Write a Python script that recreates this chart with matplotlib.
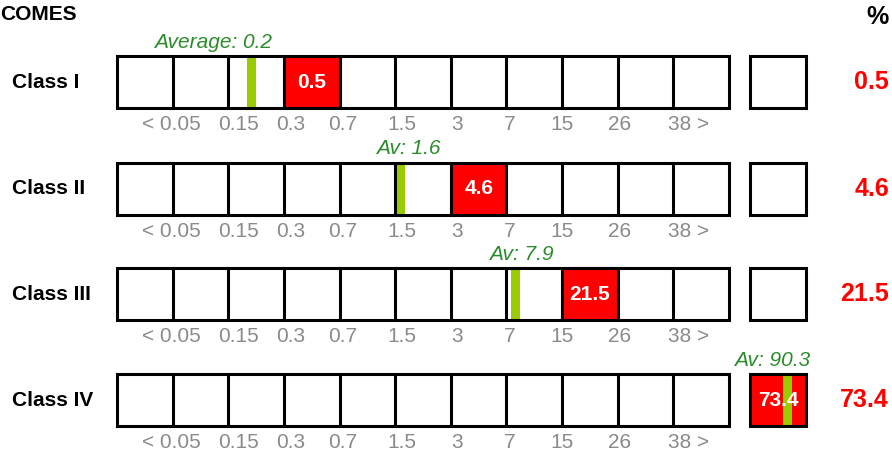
import numpy as np
import matplotlib
matplotlib.use("Agg")
import matplotlib.pyplot as plt
from matplotlib.patches import Rectangle
from matplotlib.transforms import ScaledTranslation

plt.rcParams["font.family"] = ["Liberation Sans", "DejaVu Sans"]

# ---- data -------------------------------------------------------------
classes = ["Class I", "Class II", "Class III", "Class IV"]
values = [0.5, 4.6, 21.5, 73.4]          # class share, %
averages = [0.2, 1.6, 7.9, 90.3]         # average share, %
avg_prefix = ["Average", "Av", "Av", "Av"]
tick_labels = ["< 0.05", "0.15", "0.3", "0.7", "1.5", "3", "7", "15", "26", "38 >"]
# bin edges: 11 scale cells followed by the separate cell
bin_edges = [0.0, 0.05, 0.15, 0.3, 0.7, 1.5, 3, 7, 15, 26, 38, 60, 110]

# ---- layout (pixels) --------------------------------------------------
W, H = 892, 454
cell_px = 55.64
x_left = 117
sep_start = 11.38          # position of the separate cell in cell units
x_span = sep_start + 1.03
row_top = [56, 163, 268, 374]
row_h = 52
avg_dx = [-38, 8, 6, -16]  # horizontal shift of the average captions
tick_dx = [-1, 10, 7, 3, 7, 6, 3, 0, 2, 15]  # horizontal shift of tick labels

RED = "#ff0000"
GREEN_BAR = "#99cc00"
GREEN_TXT = "#2a8c2a"
GREY = "#8a8a8a"
LW = 2.2


def cell_start(i):
    return i if i < 11 else sep_start


def locate(v):
    """Return (cell index, fractional position inside the cell)."""
    for i in range(len(bin_edges) - 1):
        lo, hi = bin_edges[i], bin_edges[i + 1]
        if lo <= v < hi or (i == len(bin_edges) - 2 and v >= lo):
            if lo <= 0:
                f = (v - lo) / (hi - lo)
            else:
                f = np.log(v / lo) / np.log(hi / lo)
            return i, min(max(f, 0.0), 1.0)
    return len(bin_edges) - 2, 1.0


fig = plt.figure(figsize=(W / 100, H / 100), dpi=100)

fig.text(0 / W, 1 - 15 / H, "COMES", fontsize=15, fontweight="bold",
         ha="left", va="center", color="black")
fig.text(889 / W, 1 - 17 / H, "%", fontsize=18, fontweight="bold",
         ha="right", va="center", color="black")

unit_w = x_span * cell_px
for r, (name, val, avg) in enumerate(zip(classes, values, averages)):
    top = row_top[r]
    ax = fig.add_axes([x_left / W, 1 - (top + row_h) / H, unit_w / W, row_h / H])
    ax.set_xlim(0, x_span)
    ax.set_ylim(0, 1)
    for s in ax.spines.values():
        s.set_visible(False)
    ax.set_yticks([])
    ax.patch.set_alpha(0)

    # value cell
    vi, _ = locate(val)
    vx = cell_start(vi)
    ax.add_patch(Rectangle((vx, 0), 1.0, 1.0, facecolor=RED, edgecolor="none", zorder=1))

    # average marker
    ai, af = locate(avg)
    ax_pos = cell_start(ai) + af
    bar_w = 9 / cell_px
    ax.add_patch(Rectangle((ax_pos - bar_w / 2, 0.02), bar_w, 0.96,
                           facecolor=GREEN_BAR, edgecolor="none", zorder=2))
    ax.text(ax_pos + avg_dx[r] / cell_px, 1.0 + 14 / row_h,
            f"{avg_prefix[r]}: {avg}", fontsize=15, fontstyle="italic",
            color=GREEN_TXT, ha="center", va="center", clip_on=False)

    ax.text(vx + 0.5, 0.5, f"{val}", fontsize=15, fontweight="bold",
            color="white", ha="center", va="center", zorder=4)

    # cell borders
    ax.add_patch(Rectangle((0, 0), 11, 1, facecolor="none", edgecolor="black",
                           lw=LW, zorder=3, clip_on=False))
    for i in range(1, 11):
        ax.plot([i, i], [0, 1], color="black", lw=LW, zorder=3,
                solid_capstyle="butt", clip_on=False)
    ax.add_patch(Rectangle((sep_start, 0), 1.0, 1, facecolor="none",
                           edgecolor="black", lw=LW, zorder=3, clip_on=False))

    ax.set_xticks(range(1, 11))
    ax.set_xticklabels(tick_labels, fontsize=15, color=GREY)
    ax.tick_params(axis="x", length=0, pad=5)
    for lbl, dx in zip(ax.get_xticklabels(), tick_dx):
        lbl.set_transform(lbl.get_transform() +
                          ScaledTranslation(dx / 100, 0, fig.dpi_scale_trans))

    fig.text(12 / W, 1 - (top + row_h / 2) / H, name, fontsize=15,
             fontweight="bold", ha="left", va="center", color="black")
    fig.text(889 / W, 1 - (top + row_h / 2) / H, f"{val}", fontsize=18,
             fontweight="bold", ha="right", va="center", color=RED)

fig.savefig("out.png", dpi=100)
